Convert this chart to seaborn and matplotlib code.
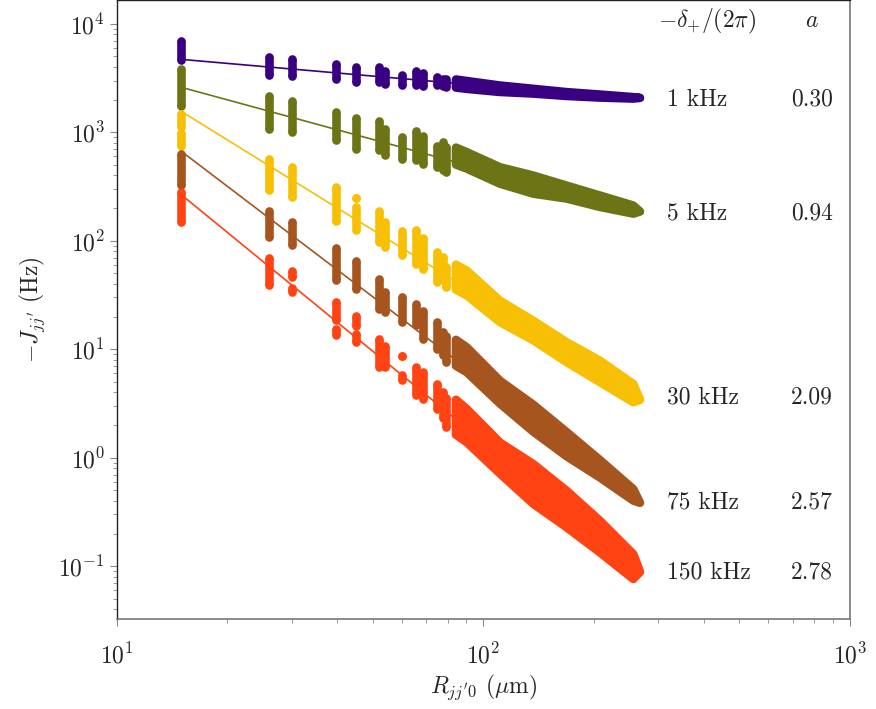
import numpy as np
import pandas as pd
import matplotlib
matplotlib.use("Agg")
import matplotlib.pyplot as plt
import seaborn as sns

# --- data ---
SERIES = ["1 kHz", "5 kHz", "30 kHz", "75 kHz", "150 kHz"]
A_VALUES = ["0.30", "0.94", "2.09", "2.57", "2.78"]
COLORS = ["#3a0082", "#6d7415", "#f8c004", "#a6551f", "#ff4312"]

# distances of the separated columns (um)
COL_R = [15.0, 26.0, 30.0, 39.7, 45.0, 52.0, 54.1, 60.0, 65.4, 68.7, 75.0, 77.9, 79.4]

# -J at top / bottom of each column (Hz)
HI_1 = [6920, 4990, 4754, 4276, 4035, 3980, 3707, 3405, 3650, 3500, 3222, 3110, 3128]
LO_1 = [4600, 3357, 3311, 3128, 2917, 2917, 2814, 2716, 2750, 2690, 2716, 2679, 2640]
HI_5 = [3846, 2182, 1932, 1529, 1358, 1264, 1075, 899, 1037, 933, 754, 811, 729]
LO_5 = [1760, 1082, 1009, 844, 707, 682, 614, 572, 552, 515, 478, 446, 431]
HI_30 = [1487, 568, 475, 311, 203, 190, 148, 124, 126, 107, 78.3, 71.4, 57.0]
LO_30 = [1130, 292, 254, 151, 124.6, 97.5, 87.7, 73.3, 61.4, 55.3, 41.6, 43.2, 37.4]
HI_75 = [632, 190, 148, 85.9, 65.5, 44.5, 33.4, 30.0, 26.1, 22.6, 17.7, 14.3, 13.3]
LO_75 = [330, 108, 90.8, 43.2, 36.1, 23.6, 22.0, 17.8, 16.6, 12.5, 10.1, 8.77, 7.6]
HI_150 = [280, 69.4, 53.0, 27.0, 20.4, 12.4, 10.8, 8.59, 6.80, 6.11, 4.77, 4.05, 3.57]
LO_150 = [149, 39.4, 46.6, 18.7, 16.5, 6.86, 6.86, 8.59, 3.75, 3.49, 2.82, 2.33, 1.93]

# columns that split in two: (series index, R, top, bottom)
EXTRA_SEG = [
    (2, 15.0, 993, 754),
    (2, 45.0, 248, 248),
    (4, 30.0, 37.0, 33.7),
    (4, 39.7, 15.5, 13.4),
    (4, 45.0, 13.7, 11.6),
    (4, 60.0, 5.82, 5.24),
]

# dense region: upper / lower edge of the merged points
BAND_R = [84.3, 90.2, 111.1, 137.0, 169.0, 208.3, 256.8, 267.8]
TOP_1 = [3064, 2968, 2697, 2514, 2344, 2227, 2108, 2077]
BOT_1 = [2585, 2514, 2354, 2275, 2162, 2090, 2046, 2077]
TOP_5 = [722, 655, 476, 399, 322, 261, 211, 186]
BOT_5 = [504, 463, 336, 272, 245, 205, 178, 186]
TOP_30 = [60.2, 53.0, 28.0, 18.3, 11.6, 7.83, 4.78, 3.42]
BOT_30 = [35.4, 31.4, 17.8, 12.1, 7.60, 4.97, 3.25, 3.42]
TOP_75 = [12.2, 10.4, 5.12, 3.08, 1.72, 0.95, 0.513, 0.384]
BOT_75 = [7.04, 6.15, 3.16, 1.74, 1.03, 0.657, 0.403, 0.384]
TOP_150 = [3.42, 2.81, 1.38, 0.873, 0.495, 0.262, 0.129, 0.0886]
BOT_150 = [1.63, 1.39, 0.715, 0.376, 0.228, 0.134, 0.0763, 0.0886]

# power-law fit end points
FIT_R = [15.0, 273.0]
FIT_1 = [4700, 2000]
FIT_5 = [2600, 180]
FIT_30 = [1560, 3.6]
FIT_75 = [668, 0.39]
FIT_150 = [266, 0.088]

HI = [HI_1, HI_5, HI_30, HI_75, HI_150]
LO = [LO_1, LO_5, LO_30, LO_75, LO_150]
TOP = [TOP_1, TOP_5, TOP_30, TOP_75, TOP_150]
BOT = [BOT_1, BOT_5, BOT_30, BOT_75, BOT_150]
FIT = [FIT_1, FIT_5, FIT_30, FIT_75, FIT_150]

sns.set_style("ticks")
plt.rcParams["font.family"] = ["cmr10", "DejaVu Serif"]
plt.rcParams["mathtext.fontset"] = "cm"
plt.rcParams["axes.formatter.use_mathtext"] = True
plt.rcParams["axes.unicode_minus"] = False

MARK_PT = 6.2  # marker diameter in points

fig = plt.figure(figsize=(8.76, 7.09), dpi=100)
ax = fig.add_axes([0.1332, 0.1265, 0.8368, 0.8728])
ax.set_xscale("log")
ax.set_yscale("log")

palette = dict(zip(SERIES, COLORS))

# fit lines (below the points)
fit_df = pd.DataFrame(
    [(s, r, j) for s, fit in zip(SERIES, FIT) for r, j in zip(FIT_R, fit)],
    columns=["series", "R", "J"],
)
sns.lineplot(
    data=fit_df, x="R", y="J", hue="series", palette=palette,
    estimator=None, sort=False, legend=False, linewidth=1.2, ax=ax, zorder=1,
)

for i, (s, c) in enumerate(zip(SERIES, COLORS)):
    z = 2 + i
    segs = [(r, h, l) for r, h, l in zip(COL_R, HI[i], LO[i])]
    segs += [(r, h, l) for k, r, h, l in EXTRA_SEG if k == i]
    rr = [g[0] for g in segs]
    ax.vlines(rr, [g[2] for g in segs], [g[1] for g in segs],
              colors=c, linewidth=MARK_PT, zorder=z)
    pts = pd.DataFrame({
        "R": rr + rr,
        "J": [g[1] for g in segs] + [g[2] for g in segs],
    })
    sns.scatterplot(data=pts, x="R", y="J", color=c, s=MARK_PT ** 2,
                    linewidth=0, legend=False, ax=ax, zorder=z)

    # merged band of the dense distances
    bx = BAND_R + BAND_R[-2::-1]
    by = TOP[i] + BOT[i][-2::-1]
    ax.fill(bx, by, facecolor=c, edgecolor=c, linewidth=MARK_PT,
            joinstyle="round", zorder=z)

    # row labels
    ax.text(317, FIT[i][-1], s, fontsize=17, ha="left", va="center")
    ax.text(789, FIT[i][-1], A_VALUES[i], fontsize=17, ha="center", va="center")

ax.text(409, 10570, r"$-\delta_{+}/(2\pi)$", fontsize=17, ha="center", va="center")
ax.text(789, 10570, r"$a$", fontsize=17, ha="center", va="center")

ax.set_xlim(10, 1000)
ax.set_ylim(0.0324, 16400)
ax.set_xlabel(r"$R_{jj'0}$ ($\mu$m)", fontsize=17, labelpad=3)
ax.set_ylabel(r"$-J_{jj'}$ (Hz)", fontsize=17, labelpad=8)

ax.tick_params(which="both", direction="out", color="#888888", labelsize=17)
ax.tick_params(which="major", length=5, width=0.8)
ax.tick_params(which="minor", length=3, width=0.6)
ax.tick_params(axis="x", which="both", pad=12)

for side in ["left", "top"]:
    ax.spines[side].set_color("#222222")
    ax.spines[side].set_linewidth(1.0)
for side in ["bottom", "right"]:
    ax.spines[side].set_color("#777777")
    ax.spines[side].set_linewidth(1.2)

fig.savefig("out.png", dpi=100)
